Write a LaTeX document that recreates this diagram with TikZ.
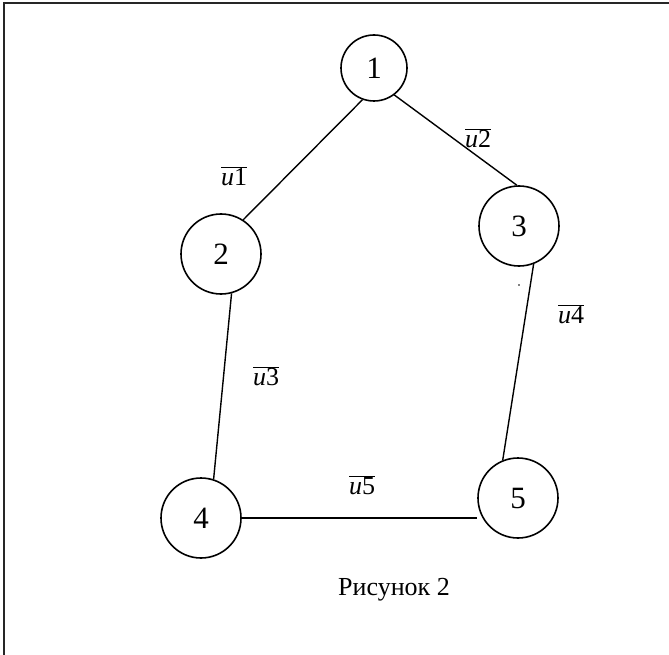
\documentclass[tikz,border=0pt]{standalone}
\usepackage{fontspec}
\setmainfont{Liberation Serif}
\usepackage{tikz}
\usetikzlibrary{calc}
\newcommand{\edgelbl}[1]{$\overline{\textit{u}\textup{#1}}$}
\tikzset{
    vertex/.style={
        circle, draw=black, line width=1.6pt, fill=white, inner sep=0pt,
        minimum size=80pt, font=\fontsize{31}{33}\selectfont
    },
    gedge/.style={line width=1.4pt, black},
    elbl/.style={font=\fontsize{26}{28}\selectfont, inner sep=0pt},
    frame/.style={line width=2pt, black!85},
}
\begin{document}
\begin{tikzpicture}[x=1pt, y=-1pt]

    \useasboundingbox (0,0) rectangle (669,655);
    \coordinate (corner) at (3.5,3.5);
    \draw [frame] (669,3.5) -- (corner) -- (3.5,655);

    \node [vertex, minimum size=66pt] (n1) at (374,68) {1};
    \node [vertex] (n2) at (221,254) {2};
    \node [vertex] (n3) at (519,226) {3};
    \node [vertex] (n4) at (201,518) {4};
    \node [vertex] (n5) at (518,498) {5};

    \draw [gedge] (n1.-110) -- (n2.57);
    \draw [gedge] (n1.-53) -- (n3.93);
    \draw [gedge] (n2.-75) -- (n4.72);
    \draw [gedge] (n3.-69) -- (n5.112);
    \draw [gedge] (n4.east) -- (n4.east -| n5.west);

    \node [elbl] (u1) at (234,176) {\edgelbl{1}};
    \node [elbl] (u2) at (478,138) {\edgelbl{2}};
    \node [elbl] (u3) at (266,376) {\edgelbl{3}};
    \node [elbl] (u4) at (571,314) {\edgelbl{4}};
    \node [elbl] (u5) at (362,485) {\edgelbl{5}};

    \fill (519,285) circle (0.8pt);

    \node [elbl, anchor=base] (cap) at (394,595) {Рисунок 2};

\end{tikzpicture}
\end{document}
